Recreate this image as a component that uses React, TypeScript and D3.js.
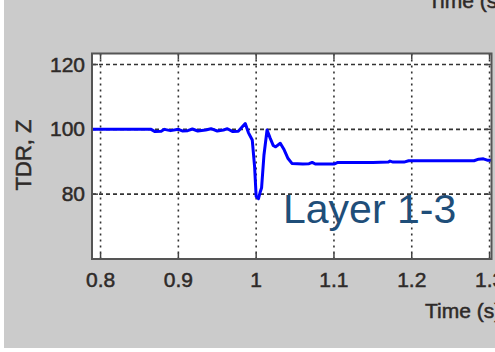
import React from "react";
import * as d3 from "d3";

// TDR trace (time in s, impedance in ohm)
const times = [
  0.789, 0.865, 0.87, 0.878, 0.882, 0.89, 0.9, 0.905, 0.912, 0.918, 0.925,
  0.935, 0.942, 0.95, 0.958, 0.963, 0.97, 0.977, 0.986, 0.99, 0.995, 0.998,
  1.0, 1.003, 1.005, 1.007, 1.01, 1.014, 1.018, 1.022, 1.025, 1.031, 1.036,
  1.041, 1.046, 1.06, 1.068, 1.072, 1.076, 1.1, 1.105, 1.15, 1.17, 1.172,
  1.176, 1.19, 1.196, 1.28, 1.286, 1.292, 1.297, 1.305,
];
const tdr = [
  100, 100, 99.3, 99.4, 100, 99.6, 100, 99.5, 99.6, 100.1, 99.5, 99.8, 100.2,
  99.5, 99.8, 100.2, 99.3, 99.4, 101.8, 99, 96.7, 88.4, 79.3, 78.6, 80.5, 82,
  92, 99.8, 97.3, 95, 94.6, 95.7, 93.7, 91, 89.5, 89.3, 89.4, 89.8, 89.3,
  89.3, 89.8, 89.8, 89.9, 90.2, 89.9, 89.9, 90.3, 90.3, 90.8, 90.9, 90.5,
  90.5,
];
const xTicks = [0.8, 0.9, 1.0, 1.1, 1.2, 1.3];
const xTickLabels = ["0.8", "0.9", "1", "1.1", "1.2", "1.3"];
const yTicks = [80, 100, 120];
const yLabel = "TDR, Z";
const xLabel = "Time (s)";
const annotation = "Layer 1-3";

const W = 495;
const H = 352;
const left = 92;
const right = 491.5;
const top = 53.5;
const bottom = 259;

const font = "Arial, 'Liberation Sans', sans-serif";
const textColor = "#2e2a28";

export default function App() {
  const x = d3.scaleLinear().domain([0.789, 1.3025]).range([left, right]);
  const y = d3.scaleLinear().domain([60, 123.4]).range([bottom, top]);

  const pts: [number, number][] = times.map((t, i) => [t, tdr[i]]);
  const line = d3
    .line<[number, number]>()
    .x((d) => x(Math.min(d[0], 1.3025)))
    .y((d) => y(d[1]));

  // slight stroke to mimic the soft, heavy look of the scanned text
  const txt = {
    fontFamily: font,
    fill: textColor,
    stroke: textColor,
    strokeWidth: 0.5,
  };

  return (
    <svg
      width={W}
      height={H}
      style={{ position: "absolute", left: 0, top: 0, background: "#fff" }}
    >
      <rect x={4} y={0} width={W - 4} height={348} fill="#cbcbcb" />
      <rect x={left} y={top} width={right - left} height={bottom - top} fill="#fff" />

      {/* grid */}
      {xTicks.map((t) => (
        <line
          key={"gx" + t}
          x1={x(t)}
          x2={x(t)}
          y1={top}
          y2={bottom}
          stroke="#333"
          strokeWidth={1.6}
          strokeDasharray="2,4"
        />
      ))}
      {yTicks.map((v) => (
        <line
          key={"gy" + v}
          x1={left}
          x2={right}
          y1={y(v)}
          y2={y(v)}
          stroke="#333"
          strokeWidth={1.6}
          strokeDasharray="4,3"
        />
      ))}

      {/* ticks (inside) */}
      {xTicks.map((t) => (
        <g key={"tx" + t} stroke="#444" strokeWidth={1.5}>
          <line x1={x(t)} x2={x(t)} y1={bottom} y2={bottom - 6} />
          <line x1={x(t)} x2={x(t)} y1={top} y2={top + 6} />
        </g>
      ))}
      {yTicks.map((v) => (
        <g key={"ty" + v} stroke="#444" strokeWidth={1.5}>
          <line x1={left} x2={left + 6} y1={y(v)} y2={y(v)} />
          <line x1={right} x2={right - 6} y1={y(v)} y2={y(v)} />
        </g>
      ))}

      {/* trace */}
      <path
        d={line(pts) || ""}
        fill="none"
        stroke="#0000ff"
        strokeWidth={3}
        strokeLinejoin="round"
      />

      {/* frame */}
      <rect
        x={left}
        y={top}
        width={right - left}
        height={bottom - top}
        fill="none"
        stroke="#555"
        strokeWidth={2}
      />

      {/* tick labels */}
      {xTicks.map((t, i) => (
        <text key={"lx" + t} x={x(t)} y={287} textAnchor="middle" fontSize={21} {...txt}>
          {xTickLabels[i]}
        </text>
      ))}
      {yTicks.map((v) => (
        <text key={"ly" + v} x={85} y={y(v) + 7} textAnchor="end" fontSize={21} {...txt}>
          {v}
        </text>
      ))}

      <text
        transform={`translate(31,155) rotate(-90)`}
        textAnchor="middle"
        fontSize={22}
        {...txt}
      >
        {yLabel}
      </text>
      <text x={425} y={318} fontSize={21} {...txt}>
        {xLabel}
      </text>
      <text x={428} y={8} fontSize={21} {...txt}>
        {xLabel}
      </text>

      <text x={283} y={223} fontFamily={font} fontSize={41} fill="#1f4e79">
        {annotation}
      </text>
    </svg>
  );
}
